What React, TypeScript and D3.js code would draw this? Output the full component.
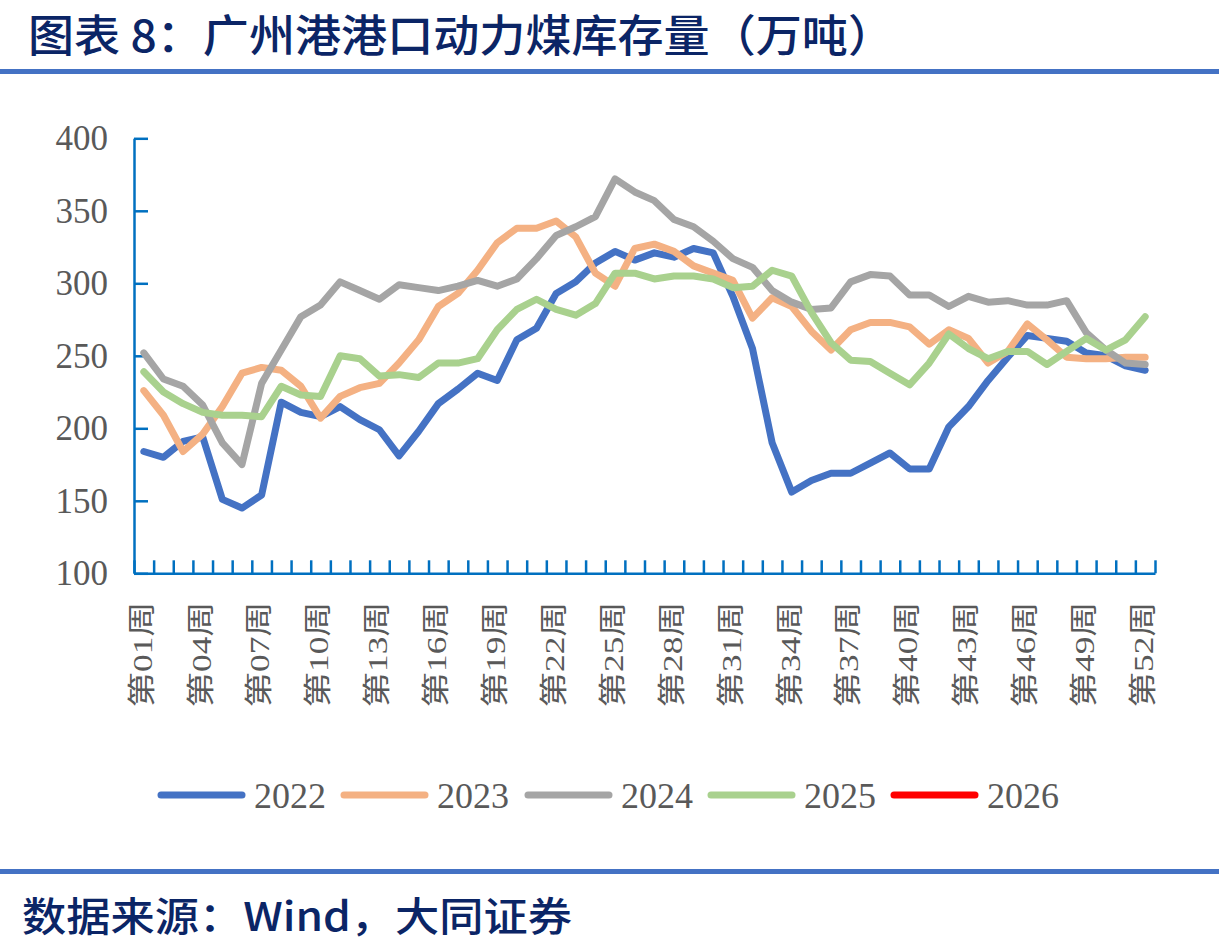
import React, { useEffect, useRef } from 'react';
import * as d3 from 'd3';

// weekly port stock, 10k tonnes
const weeks = Array.from({ length: 52 }, (_, i) => i + 1);
const years = ['2022', '2023', '2024', '2025', '2026'];
const v2022 = [184, 180, 191, 194, 151, 145, 154, 218, 211, 208, 215, 206, 199, 181, 198, 217, 227, 238, 233, 261, 269, 293, 301, 314, 322, 316, 321, 318, 324, 321, 291, 255, 190, 156, 164, 169, 169, 176, 183, 172, 172, 201, 215, 233, 249, 264, 262, 260, 252, 250, 243, 240];
const v2023 = [226, 209, 184, 196, 215, 238, 242, 240, 229, 207, 222, 228, 231, 245, 261, 284, 293, 309, 328, 338, 338, 343, 332, 307, 298, 324, 327, 322, 312, 307, 302, 276, 290, 284, 267, 254, 268, 273, 273, 270, 258, 268, 262, 245, 253, 272, 261, 249, 248, 248, 249, 249];
const v2024 = [252, 234, 229, 216, 190, 175, 231, 254, 277, 285, 301, 295, 289, 299, 297, 295, 298, 302, 298, 303, 317, 333, 339, 346, 372, 363, 357, 344, 339, 329, 317, 311, 295, 287, 282, 283, 301, 306, 305, 292, 292, 284, 291, 287, 288, 285, 285, 288, 266, 254, 245, 244];
const v2025 = [239, 225, 217, 211, 209, 209, 208, 229, 223, 222, 250, 248, 236, 237, 235, 245, 245, 248, 268, 282, 289, 282, 278, 286, 307, 307, 303, 305, 305, 303, 297, 298, 309, 305, 280, 259, 247, 246, 238, 230, 245, 265, 255, 248, 253, 253, 244, 253, 262, 254, 261, 277];
const v2026: number[] = [];
const colors = ['#4472C4', '#F4B183', '#A5A5A5', '#A9D18E', '#FF0000'];
const yTicks = [100, 150, 200, 250, 300, 350, 400];
const xTickLabels = ['第01周', '第04周', '第07周', '第10周', '第13周', '第16周', '第19周', '第22周', '第25周', '第28周', '第31周', '第34周', '第37周', '第40周', '第43周', '第46周', '第49周', '第52周'];

const W = 1219;
const H = 952;
const SERIF = "'Liberation Serif', 'Noto Sans CJK SC', serif";
const CJK = "'Noto Sans CJK SC', sans-serif";

const Chart: React.FC = () => {
  const svgRef = useRef<SVGSVGElement>(null);

  useEffect(() => {
    if (!svgRef.current) return;
    const svg = d3.select(svgRef.current);
    svg.selectAll('*').remove();

    const left = 134, right = 1155, top = 138.3, bottom = 573.3;
    const axisColor = '#0070C0';

    const x = d3.scaleBand<number>().domain(weeks).range([left, right]).padding(0);
    const xEdge = d3.scaleLinear().domain([0, 52]).range([left, right]);
    const y = d3.scaleLinear().domain([100, 400]).range([bottom, top]);
    const cx = (w: number) => (x(w) || 0) + x.bandwidth() / 2;

    // header and footer
    svg.append('text')
      .attr('x', 28).attr('y', 52)
      .attr('font-family', CJK).attr('font-size', 44).attr('font-weight', 500)
      .attr('fill', '#0B2566')
      .attr('textLength', 866).attr('lengthAdjust', 'spacingAndGlyphs')
      .text('图表 8：广州港港口动力煤库存量（万吨）');
    svg.append('rect').attr('x', 0).attr('y', 69).attr('width', W).attr('height', 5).attr('fill', '#4472C4');
    svg.append('rect').attr('x', 0).attr('y', 869).attr('width', W).attr('height', 5).attr('fill', '#4472C4');
    svg.append('text')
      .attr('x', 22).attr('y', 931)
      .attr('font-family', CJK).attr('font-size', 40).attr('font-weight', 500)
      .attr('fill', '#0B2566')
      .attr('textLength', 550).attr('lengthAdjust', 'spacingAndGlyphs')
      .text('数据来源：Wind，大同证券');

    // y axis
    const yAxis = svg.append('g')
      .attr('transform', `translate(${left},0)`)
      .call(d3.axisLeft(y).tickValues(yTicks).tickSizeInner(-14).tickSizeOuter(0).tickPadding(26).tickFormat(d3.format('d')));
    yAxis.select('.domain').attr('stroke', axisColor).attr('stroke-width', 2.5);
    yAxis.selectAll('.tick line').attr('stroke', axisColor).attr('stroke-width', 2.5);
    yAxis.selectAll('.tick text')
      .attr('font-family', SERIF).attr('font-size', 35).attr('fill', '#595959');

    // x axis, ticks on category boundaries
    const xAxis = svg.append('g')
      .attr('transform', `translate(0,${bottom})`)
      .call(d3.axisBottom(xEdge).tickValues(d3.range(0, 53)).tickSizeInner(-13).tickSizeOuter(0).tickFormat(() => ''));
    xAxis.select('.domain').attr('stroke', axisColor).attr('stroke-width', 2.5);
    xAxis.selectAll('.tick line').attr('stroke', axisColor).attr('stroke-width', 2.5);

    svg.append('g')
      .selectAll('text')
      .data(xTickLabels)
      .enter()
      .append('text')
      .attr('transform', (d) => `translate(${cx(+d.slice(1, 3)) - 2},${bottom + 28}) rotate(-90)`)
      .attr('text-anchor', 'end')
      .attr('dy', '0.35em')
      .attr('font-family', SERIF).attr('font-size', 28).attr('fill', '#595959')
      .attr('textLength', 106).attr('lengthAdjust', 'spacingAndGlyphs')
      .text((d) => d);

    // series lines
    const series = [v2022, v2023, v2024, v2025, v2026];
    const line = d3.line<number>().x((_, i) => cx(weeks[i])).y((d) => y(d));
    series.forEach((vals, k) => {
      if (!vals.length) return;
      svg.append('path')
        .datum(vals)
        .attr('d', line)
        .attr('fill', 'none')
        .attr('stroke', colors[k])
        .attr('stroke-width', 7)
        .attr('stroke-linejoin', 'round')
        .attr('stroke-linecap', 'round');
    });

    // legend
    const legendX = [158, 341, 525, 708, 891];
    const lg = svg.append('g');
    years.forEach((yr, k) => {
      lg.append('line')
        .attr('x1', legendX[k] + 3).attr('x2', legendX[k] + 84)
        .attr('y1', 795).attr('y2', 795)
        .attr('stroke', colors[k]).attr('stroke-width', 7).attr('stroke-linecap', 'round');
      lg.append('text')
        .attr('x', legendX[k] + 96).attr('y', 808)
        .attr('font-family', SERIF).attr('font-size', 36).attr('fill', '#595959')
        .text(yr);
    });
  }, []);

  return (
    <svg
      ref={svgRef}
      width={W}
      height={H}
      style={{ position: 'absolute', left: 0, top: 0, background: '#fff' }}
      role="img"
      aria-label="广州港港口动力煤库存量"
    />
  );
};

export default function App() {
  return <Chart />;
}
